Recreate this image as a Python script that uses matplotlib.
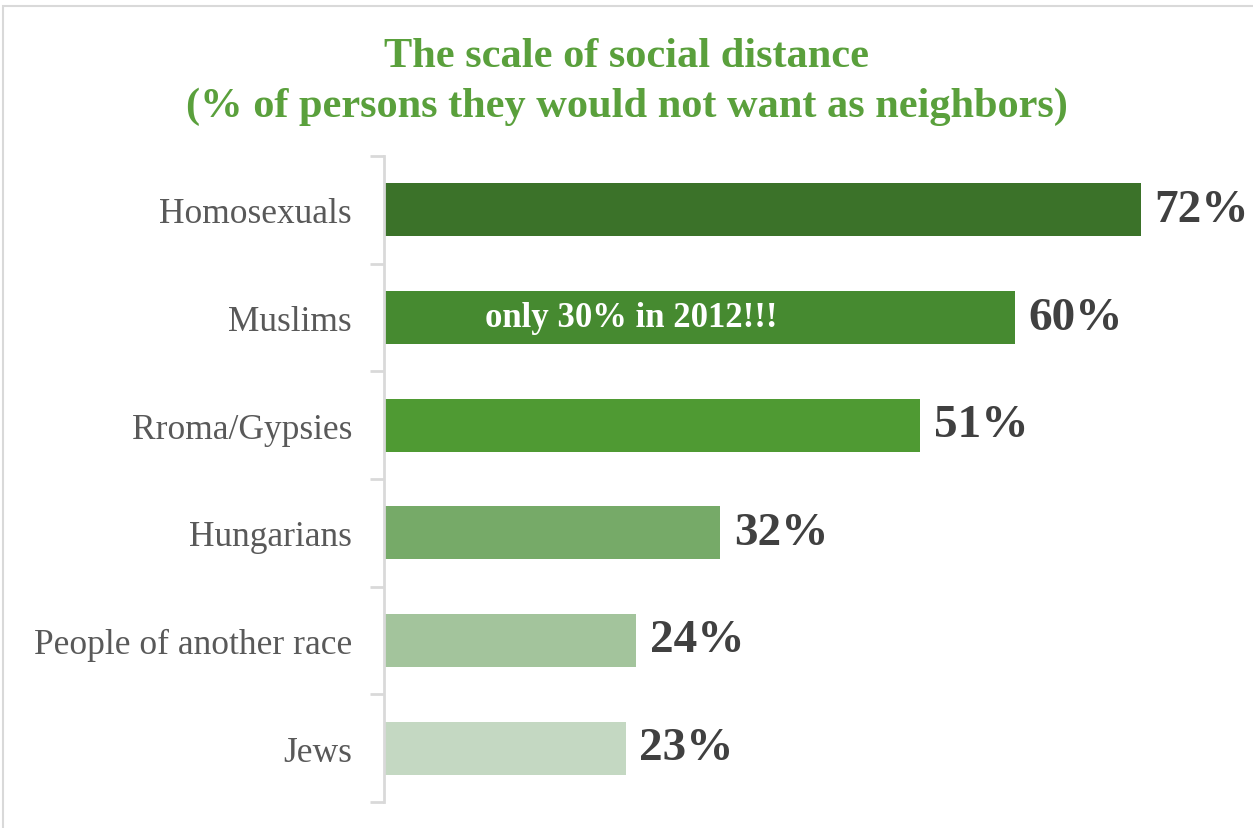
import matplotlib
matplotlib.use("Agg")
import matplotlib.pyplot as plt
from matplotlib.patches import Rectangle

categories = ["Homosexuals", "Muslims", "Rroma/Gypsies", "Hungarians",
              "People of another race", "Jews"]
values = [72, 60, 51, 32, 24, 23]
value_labels = ["72%", "60%", "51%", "32%", "24%", "23%"]
colors = ["#3b7229", "#468a30", "#4f9a33", "#76aa68", "#a3c49c", "#c4d8c2"]
note = "only 30% in 2012!!!"
title = "The scale of social distance\n(% of persons they would not want as neighbors)"

plt.rcParams['font.family'] = ['Liberation Serif', 'DejaVu Serif']

W, H = 1253, 829
fig = plt.figure(figsize=(W / 100, H / 100), dpi=100)
fig.patch.set_facecolor("white")

# light frame
fig.add_artist(Rectangle((3 / W, -0.01), 1.05, 1 - 7 / H + 0.01, transform=fig.transFigure,
                         fill=False, edgecolor="#d9d9d9", linewidth=1.5))

ax = fig.add_axes([384 / W, 1 - 803 / H, (1225 - 384) / W, (803 - 157) / H])
y = list(range(len(categories)))
ax.barh(y, values, height=0.49, color=colors)
ax.set_ylim(len(categories) - 0.5, -0.5)
ax.set_xlim(0, 80)

for s in ["top", "right", "bottom"]:
    ax.spines[s].set_visible(False)
ax.spines["left"].set_color("#d9d9d9")
ax.spines["left"].set_linewidth(2)
ax.set_xticks([])
ax.set_yticks(y)
ax.set_yticklabels(categories, fontsize=25.5, color="#595959")
ax.tick_params(axis="y", which="major", length=0, pad=23)
ax.set_yticks([i - 0.5 for i in range(len(categories) + 1)], minor=True)
ax.tick_params(axis="y", which="minor", length=10, width=2, color="#d9d9d9")

for i, (v, lab) in enumerate(zip(values, value_labels)):
    ax.text(v + 1.3, i, lab, va="center", ha="left", fontsize=34,
            fontweight="bold", color="#404040")

ax.text(23.5, 1, note, va="center", ha="center", fontsize=25,
        fontweight="bold", color="white")

fig.text(0.5, 1 - 82 / H, title, ha="center", va="center", fontsize=30.5,
         fontweight="bold", color="#5aa03c", linespacing=1.4)

fig.savefig("out.png", dpi=100)
